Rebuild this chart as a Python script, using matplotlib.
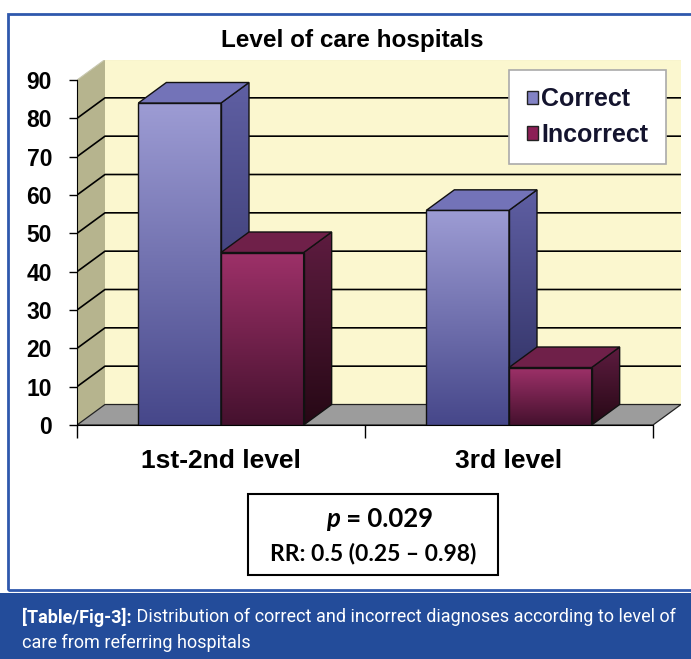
import numpy as np
import matplotlib
matplotlib.use('Agg')
import matplotlib.pyplot as plt
from matplotlib.patches import Polygon, Rectangle, Patch
from matplotlib.colors import LinearSegmentedColormap

# ---------------- data ----------------
categories = ['1st-2nd level', '3rd level']
correct = [84, 56]
incorrect = [45, 15]
series_names = ['Correct', 'Incorrect']
y_ticks = list(range(0, 100, 10))
title = 'Level of care hospitals'
p_text = '= 0.029'
rr_text = 'RR: 0.5 (0.25 \u2013 0.98)'
caption_bold = '[Table/Fig-3]:'
caption_rest = ' Distribution of correct and incorrect diagnoses according to level of'
caption_line2 = 'care from referring hospitals'

plt.rcParams['font.family'] = ['Liberation Sans', 'DejaVu Sans']

W, H = 691, 659
fig = plt.figure(figsize=(W / 100, H / 100), dpi=100)


def fx(px):
    return px / W


def fy(py):
    return 1 - py / H


# pseudo 3d depth, in data units
DX = 28 / 288
DY = 20.5 / 3.833
BW = 0.287

ax = fig.add_axes([fx(77), fy(425), fx(681) - fx(77), fy(59.5) - fy(425)])
ax.set_facecolor('none')

# walls and floor
ax.add_patch(Rectangle((DX, DY), 2, 90, fc='#fbf7cf', ec='none', zorder=0))
ax.add_patch(Polygon([(0, 0), (DX, DY), (DX, 90 + DY), (0, 90)], fc='#b6b48e', ec='none', zorder=0))
ax.add_patch(Polygon([(0, 0), (2, 0), (2 + DX, DY), (DX, DY)], fc='#9c9c9c', ec='#222222', lw=0.9, zorder=1))

for v in y_ticks[1:-1]:
    ax.plot([0, DX, 2 + DX], [v, v + DY, v + DY], color='black', lw=1.2, zorder=1)
ax.plot([0, DX, 2 + DX], [90, 90 + DY, 90 + DY], color='#c8c8b0', lw=0.8, zorder=1)


def grad_face(verts, c_top, c_bot, z):
    xs = [p[0] for p in verts]
    ys = [p[1] for p in verts]
    cmap = LinearSegmentedColormap.from_list('g', [c_bot, c_top])
    g = np.linspace(0, 1, 256).reshape(-1, 1)
    im = ax.imshow(g, extent=[min(xs), max(xs), min(ys), max(ys)], origin='lower',
                   cmap=cmap, aspect='auto', zorder=z, interpolation='bilinear')
    poly = Polygon(verts, closed=True, fc='none', ec='#111111', lw=1, zorder=z + 0.01)
    ax.add_patch(poly)
    im.set_clip_path(poly)


styles = [
    # front top, front bottom, side top, side bottom, top face
    ('#9d9cd4', '#46478a', '#5f5fa3', '#2a2b5c', '#7373b8'),
    ('#9e3169', '#45112e', '#5e1c40', '#260815', '#6f2049'),
]

z = 2
for i, cat in enumerate(categories):
    c = i + 0.5
    for j, vals in enumerate([correct, incorrect]):
        v = vals[i]
        x0 = c - BW if j == 0 else c
        x1 = x0 + BW
        ft, fb, st, sb, tp = styles[j]
        grad_face([(x0, 0), (x1, 0), (x1, v), (x0, v)], ft, fb, z)
        grad_face([(x1, 0), (x1 + DX, DY), (x1 + DX, v + DY), (x1, v)], st, sb, z)
        ax.add_patch(Polygon([(x0, v), (x1, v), (x1 + DX, v + DY), (x0 + DX, v + DY)],
                             fc=tp, ec='#111111', lw=1, zorder=z + 0.02))
        z += 1

ax.set_xlim(0, 2 + DX)
ax.set_ylim(0, 90 + DY)

for s in ['top', 'right']:
    ax.spines[s].set_visible(False)
ax.spines['left'].set_bounds(0, 90)
ax.spines['bottom'].set_bounds(0, 2)
ax.spines['left'].set_zorder(1.5)
ax.spines['bottom'].set_zorder(1.5)

ax.set_yticks(y_ticks)
ax.set_yticklabels([str(t) for t in y_ticks], fontsize=16.5, fontweight='bold')
ax.tick_params(axis='y', length=6, width=1, pad=12)

ax.set_xticks([0, 1, 2])
ax.set_xticklabels(['', '', ''])
ax.tick_params(axis='x', which='major', length=9, width=1)
ax.set_xticks([0.5, 1.5], minor=True)
ax.set_xticklabels(categories, minor=True, fontsize=19, fontweight='bold')
ax.tick_params(axis='x', which='minor', length=0, pad=17)

# title
fig.text(fx(352), fy(40), title, ha='center', va='center', fontsize=17.5, fontweight='bold')

# legend
handles = [Patch(fc='#8282c4', ec='#222222'), Patch(fc='#8c1f56', ec='#222222')]
leg = fig.legend(handles, series_names, loc='upper right', bbox_to_anchor=(fx(666), fy(70)),
                 frameon=True, fancybox=False, edgecolor='#aaaaaa', framealpha=1,
                 prop=dict(family='Liberation Sans', weight='bold', size=18),
                 handlelength=0.45, handleheight=0.45, handletextpad=0.15,
                 labelspacing=0.45, borderpad=0.7, borderaxespad=0)
leg.get_frame().set_linewidth(1.2)
for t in leg.get_texts():
    t.set_color('#14142e')

# p value box
fig.add_artist(Rectangle((fx(248), fy(575)), fx(498) - fx(248), fy(494) - fy(575),
                         transform=fig.transFigure, fc='white', ec='black', lw=1.5))
tp_ = fig.text(fx(326), fy(519), 'p', ha='left', va='center', fontsize=18.5,
               fontweight='bold', style='italic', family='Lato')
fig.add_artist(plt.Annotation(' ' + p_text, xy=(1, 0.5), xycoords=tp_, va='center', ha='left',
                              fontsize=18.5, fontweight='bold', family='Lato'))
fig.text(fx(373), fy(553), rr_text, ha='center', va='center', fontsize=16.5,
         fontweight='bold', family='Lato')

# frame and caption band
fig.add_artist(Rectangle((fx(8), fy(590)), fx(720) - fx(8), fy(14) - fy(590),
                         transform=fig.transFigure, fc='none', ec='#2f58ad', lw=2))
fig.add_artist(Rectangle((0, 0), 1, fy(593), transform=fig.transFigure,
                         fc='#234c9a', ec='none'))
cb = fig.text(fx(22), fy(617), caption_bold, ha='left', va='center', fontsize=13,
              fontweight='bold', color='white', family='Roboto')
fig.add_artist(plt.Annotation(caption_rest, xy=(1, 0.5), xycoords=cb, va='center', ha='left',
                              fontsize=13, color='white', family='Roboto'))
fig.text(fx(22), fy(643), caption_line2, ha='left', va='center', fontsize=13,
         color='white', family='Roboto')

fig.savefig('out.png', dpi=100)
